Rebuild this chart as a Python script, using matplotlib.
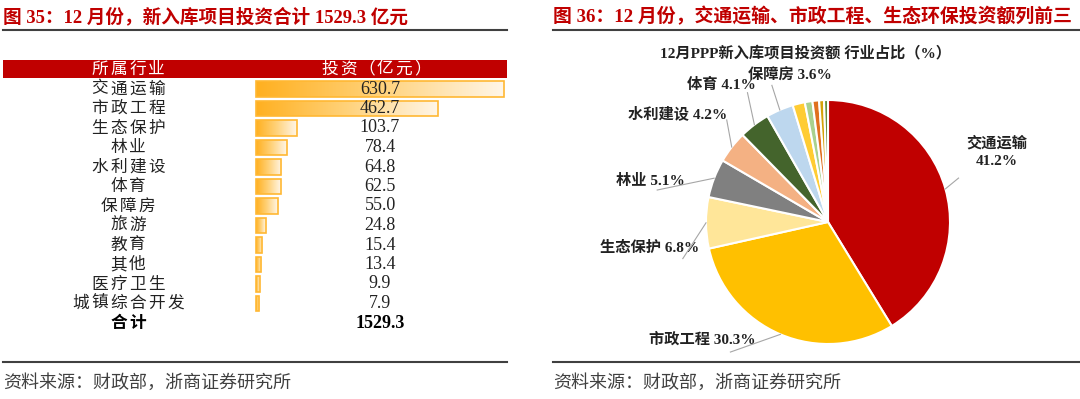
import numpy as np
import matplotlib
matplotlib.use('Agg')
import matplotlib.pyplot as plt
from matplotlib.colors import LinearSegmentedColormap

# ---------------- data ----------------
categories = ['交通运输', '市政工程', '生态保护', '林业', '水利建设', '体育', '保障房',
              '旅游', '教育', '其他', '医疗卫生', '城镇综合开发']
investment = [630.7, 462.7, 103.7, 78.4, 64.8, 62.5, 55.0, 24.8, 15.4, 13.4, 9.9, 7.9]
total_label = '合计'
total_value = 1529.3
shares = [41.2, 30.3, 6.8, 5.1, 4.2, 4.1, 3.6, 1.6, 1.0, 0.9, 0.6, 0.5]
pie_colors = ['#C00000', '#FFC000', '#FFE699', '#808080', '#F4B183', '#44642C', '#BDD7EE',
              '#FFCC33', '#A9D18E', '#E0701E', '#D4A20A', '#5E8C3A']
header_left = '所属行业'
header_right = '投资（亿元）'
title_left = '图 35：12 月份，新入库项目投资合计 1529.3 亿元'
title_right = '图 36：12 月份，交通运输、市政工程、生态环保投资额列前三'
pie_title = '12月PPP新入库项目投资额 行业占比（%）'
source = '资料来源：财政部，浙商证券研究所'

SERIF = ['Liberation Serif', 'Noto Sans CJK SC']
CJK = ['Noto Sans CJK SC', 'DejaVu Sans']
RED = '#C00000'


def tracked(ax, xc, y, s, pitch=19, **kw):
    """Draw CJK text with letter spacing, centred at xc."""
    n = len(s)
    for k, ch in enumerate(s):
        ax.text(xc + (k - (n - 1) / 2) * pitch, y, ch, ha='center', va='center', **kw)


W, H = 1080, 399
fig = plt.figure(figsize=(W / 100, H / 100), dpi=100)
bg = fig.add_axes([0, 0, 1, 1])
bg.set_xlim(0, W)
bg.set_ylim(H, 0)
bg.axis('off')

# ---------------- titles and rules ----------------
bg.text(3, 17, title_left, family=SERIF, fontsize=13.4, fontweight='bold', color=RED,
        ha='left', va='center')
bg.text(553, 17, title_right, family=SERIF, fontsize=13.6, fontweight='bold', color=RED,
        ha='left', va='center')
for x0, x1 in [(3, 507), (553, 1080)]:
    bg.plot([x0, x1], [30, 30], color='#404040', lw=1.5)
    bg.plot([x0, x1], [362, 362], color='#404040', lw=1.5)
bg.text(3, 383, source, family=CJK, fontsize=13, color='#404040', ha='left', va='center')
bg.text(553, 383, source, family=CJK, fontsize=13, color='#404040', ha='left', va='center')

# ---------------- table (left) ----------------
bg.add_patch(plt.Rectangle((3, 60), 504, 18, color=RED, lw=0))
tracked(bg, 128, 69, header_left, family=CJK, fontsize=12, color='white')
tracked(bg, 376, 69, header_right, pitch=18.5, family=CJK, fontsize=12, color='white')

row0, dy = 89, 19.5
n = len(categories)
for i, c in enumerate(categories):
    tracked(bg, 128, row0 + i * dy, c, family=CJK, fontsize=12, color='#222222')
tracked(bg, 128, row0 + n * dy, total_label, family=CJK, fontsize=12, fontweight='bold',
        color='black')

# bar axes mapped to the rows
top_px = row0 - dy / 2
bot_px = row0 + (n - 1) * dy + dy / 2
bx0, bx1 = 256, 504
bax = fig.add_axes([bx0 / W, 1 - bot_px / H, (bx1 - bx0) / W, (bot_px - top_px) / H])
bax.set_xlim(0, max(investment))
bax.set_ylim(n - 0.5, -0.5)
bax.axis('off')
bax.patch.set_alpha(0)
ypos = np.arange(n)
bars = bax.barh(ypos, investment, height=0.77, color='none', edgecolor='#FFB833', lw=1.2,
                zorder=3)
cmap = LinearSegmentedColormap.from_list('g', ['#FFB020', '#FFD27A', '#FFF6E8'])
grad = np.linspace(0, 1, 256).reshape(1, -1)
for b, yv, v in zip(bars, ypos, investment):
    b.set_clip_on(False)
    im = bax.imshow(grad, extent=[0, v, yv + 0.385, yv - 0.385], aspect='auto', cmap=cmap,
                    zorder=2, interpolation='bilinear')
    im.set_clip_path(b)
    bax.text(max(investment) * 0.5, yv, f'{v:.1f}', family=SERIF, fontsize=13,
             color='#222222', ha='center', va='center', zorder=4)
bax.text(max(investment) * 0.5, n, f'{total_value:.1f}', family=SERIF, fontsize=13,
         fontweight='bold', color='black', ha='center', va='center', clip_on=False)

# ---------------- pie (right) ----------------
cx, cy, r = 828, 222, 122
bg.text(806, 53, pie_title, family=SERIF, fontsize=11, fontweight='bold', color='#222222',
        ha='center', va='center')
pax = fig.add_axes([(cx - r) / W, 1 - (cy + r) / H, 2 * r / W, 2 * r / H])
wedges, _ = pax.pie(investment, colors=pie_colors, startangle=90, counterclock=False,
                    radius=1, wedgeprops=dict(edgecolor='white', linewidth=1.5))
pax.set_xlim(-1, 1)
pax.set_ylim(-1, 1)
pax.set_aspect('auto')
pax.axis('off')

# label layout (axis units): text centre and leader end
label_layout = {
    0: ((1.385, 0.574), (1.07, 0.36)),
    1: ((-1.03, -0.96), (-0.80, -1.066)),
    2: ((-1.46, -0.21), (-1.19, -0.30)),
    3: ((-1.46, 0.336), (-1.40, 0.262)),
    4: ((-1.23, 0.885), (-0.83, 0.836)),
    5: ((-0.87, 1.123), (-0.66, 1.06)),
    6: ((-0.31, 1.197), (-0.46, 1.12)),
}
for i, ((tx, ty), (lx, ly)) in label_layout.items():
    w = wedges[i]
    mid = np.deg2rad((w.theta1 + w.theta2) / 2)
    ex, ey = np.cos(mid), np.sin(mid)
    pax.plot([ex, lx], [ey, ly], color='#A6A6A6', lw=0.8, clip_on=False, zorder=5)
    if i == 0:
        txt = f'{categories[i]}\n{shares[i]:.1f}%'
    else:
        txt = f'{categories[i]} {shares[i]:.1f}%'
    pax.text(tx, ty, txt, family=SERIF, fontsize=11, fontweight='bold', color='#222222',
             ha='center', va='center', linespacing=1.4)

fig.savefig('out.png', dpi=100)
